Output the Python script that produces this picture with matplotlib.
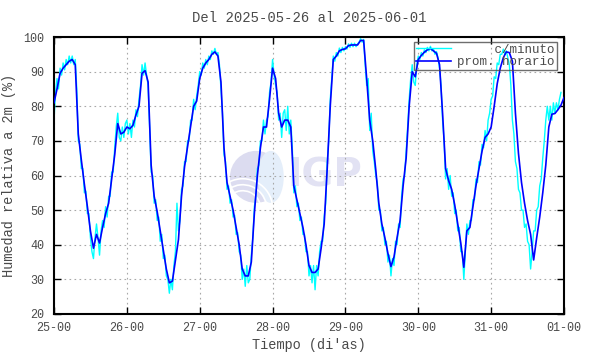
import numpy as np
import matplotlib
matplotlib.use("Agg")
import matplotlib.pyplot as plt
from matplotlib.patches import Ellipse, Arc

# Humedad relativa, promedio horario (h = 0 .. 168 desde 25-00)
prom_horario = [
    81, 85, 89.5, 91, 92, 93, 93.5, 92, 72, 64.5, 57.5, 51, 44, 39, 43, 40.5, 45, 49, 52, 59, 66, 75, 72, 72.5,
    74, 73.5, 74.5, 77.5, 80, 89.5, 90.3, 87, 63, 54, 49.5, 44, 38.5, 33, 29, 29.5, 35.5, 41.5, 54, 62.5, 68.3, 74, 80, 81.5,
    88, 91, 92.5, 93.5, 95, 95.7, 94.5, 87, 68, 58, 54, 50, 45, 40, 33, 31, 31, 35, 49, 60, 68, 74, 74, 82,
    91, 88, 78, 74, 76, 76, 74, 57, 53, 49, 45, 40, 34, 32, 32, 33, 39, 46, 62, 80, 93.5, 94.5, 96, 96.4,
    96.6, 97.5, 97.7, 97.7, 97.7, 99, 99, 88, 76, 70, 61.6, 52, 46, 42, 37.5, 33.7, 36.5, 42, 47, 57, 65, 80, 90, 88.5,
    93.5, 94.7, 95.6, 96.3, 96.7, 96, 95.3, 92, 78, 62, 58.5, 56, 51.5, 46, 40.5, 33.5, 44, 45, 51, 57, 62, 67, 71, 72,
    74, 80, 86.5, 91, 94, 95.7, 95.5, 93, 78, 66.4, 58, 52, 47, 43, 35.6, 42, 48, 55, 63, 74, 77.7, 77.9, 79, 80.3,
    82.5,
]

# Humedad "c/minuto" (leida cada media hora)
c_minuto = [
    76, 84, 88, 85, 91, 89, 92.5, 90.5, 93.5, 92, 94.5, 92.5, 94.5, 92, 93.5, 85, 70, 69, 62, 62, 55, 55.5, 49, 49,
    42, 38, 36, 42, 46, 42, 37, 44, 47, 45, 51, 48, 54, 54, 61, 61, 68, 74, 78, 71, 70, 74, 71, 75,
    76, 72, 75, 71, 76, 74, 79, 77, 82, 86, 92, 89, 92.5, 89, 86, 74, 61, 60, 52, 53, 47, 48, 41, 43,
    36, 37, 31, 30, 26, 30, 27, 34, 38, 52, 44, 47, 56, 57, 64, 64, 70, 70, 76, 76, 82, 79, 83, 86,
    90, 89, 92.5, 91, 93.5, 92, 94.5, 93.5, 96, 95, 96.7, 95, 95.5, 92, 85, 78, 66, 64, 56, 57, 52, 53, 48, 48.5,
    43, 43.5, 38, 37, 30, 33, 28, 34, 29, 30, 37, 42, 51, 54, 62, 63, 70, 70, 76, 72, 76, 77, 84, 87,
    93.5, 89, 86, 84, 76, 78, 71, 78, 79, 73, 80, 72, 76, 68, 55, 57, 51, 52, 47, 48, 43, 43, 38, 38,
    31, 34, 29, 34, 27, 34, 31, 38, 41, 41, 48, 52, 64, 70, 82, 88, 94.5, 93, 95.5, 94.5, 96.8, 95.5, 97, 96,
    97.2, 96.5, 98, 97, 98.2, 97.2, 98.2, 97.2, 98, 98.5, 99.5, 98.5, 99.3, 92, 86, 88, 73, 78, 67, 64, 60, 58, 50, 50,
    44, 45, 40, 41, 35, 37, 31, 36, 34, 41, 40, 46, 45, 54, 59, 60, 67, 74, 82, 88, 92, 87, 86, 92,
    94.5, 93.5, 95.5, 94.5, 96.3, 95.5, 97, 96, 97.3, 96, 96.5, 95, 95.8, 94, 91, 86, 76, 70, 59, 62, 56, 60, 54, 55,
    49, 50, 44, 45, 38, 38, 30, 38, 46, 43, 47, 47, 53, 53, 59, 58, 64, 63, 69, 68, 73, 70,
    76, 78, 82, 83, 88.5, 88, 92.5, 92, 95, 95, 96.5, 95, 96, 94, 92, 86, 76, 72, 64, 62, 56, 55, 50, 50,
    45, 46, 41, 40, 33, 38, 44, 44, 50, 51, 57, 59, 65, 70, 76, 80, 76, 80, 76, 81, 78, 81, 79, 82,
    84,
]

tick_horas = [0, 24, 48, 72, 96, 120, 144, 168]
tick_labels = ["25-00", "26-00", "27-00", "28-00", "29-00", "30-00", "31-00", "01-00"]
y_ticks = [20, 30, 40, 50, 60, 70, 80, 90, 100]

horas = np.arange(len(prom_horario))
horas_min = np.arange(len(c_minuto)) * 0.5

gris = "#4a4a4a"
mono = ["Liberation Mono", "DejaVu Sans Mono"]

fig = plt.figure(figsize=(5.9, 3.54), dpi=100)
ax = fig.add_axes([54 / 590, 40 / 354, 510 / 590, 277 / 354])

# marca de agua IGP
ax.add_patch(Ellipse((0.396, 0.495), 52 / 510, 52 / 277, transform=ax.transAxes,
                     facecolor="#dcdcf0", edgecolor="none", zorder=0.1))
ax.add_patch(Ellipse((0.425, 0.495), 26 / 510, 52 / 277, transform=ax.transAxes,
                     facecolor="#e4eefa", edgecolor="none", zorder=0.12))
for r in [0.6, 0.8, 1.0]:
    ax.add_patch(Arc((0.37, 0.38), r * 60 / 510, r * 60 / 277, theta1=20, theta2=110,
                     transform=ax.transAxes, color="white", lw=1.2, zorder=0.15))
ax.text(0.457, 0.5, "IGP", transform=ax.transAxes, fontsize=28, fontweight="bold",
        color="#e2e2f3", ha="left", va="center", zorder=0.2)

ax.plot(horas_min, c_minuto, color="#00ffff", lw=1.0, label="     c/minuto", zorder=2)
ax.plot(horas, prom_horario, color="#0000ff", lw=1.2, label="prom. horario", zorder=3)

ax.set_xlim(0, 168)
ax.set_ylim(20, 100)
ax.set_xticks(tick_horas)
ax.set_xticklabels(tick_labels)
ax.set_yticks(y_ticks)
ax.set_axisbelow(True)
ax.grid(True, color="#a8a8a8", linestyle=(0, (1.5, 3)), lw=0.8)

ax.tick_params(direction="in", length=5, width=1, top=True, right=True,
               colors="black", labelcolor=gris, labelsize=8.5)
ax.tick_params(axis="y", pad=7)
ax.tick_params(axis="x", pad=6)
for lab in ax.get_xticklabels() + ax.get_yticklabels():
    lab.set_family(mono)
for s in ax.spines.values():
    s.set_linewidth(1.5)

ax.set_title("Del 2025-05-26 al 2025-06-01", fontsize=10, color=gris, family=mono, pad=11)
ax.set_xlabel("Tiempo (di'as)", fontsize=9.8, color=gris, family=mono, labelpad=3)
ax.set_ylabel("Humedad relativa a 2m (%)", fontsize=9.8, color=gris, family=mono, labelpad=5)

leg = ax.legend(loc="upper right", bbox_to_anchor=(0.986, 0.983), borderaxespad=0,
                prop={"family": mono, "size": 9}, frameon=True, fancybox=False,
                edgecolor=gris, facecolor="none", framealpha=None, handlelength=2.8,
                handletextpad=0.55, borderpad=0.15, labelspacing=0.05)
leg.get_frame().set_linewidth(1.0)
leg._legend_box.sep = 2
for t in leg.get_texts():
    t.set_color(gris)

fig.savefig("out.png", dpi=100)
